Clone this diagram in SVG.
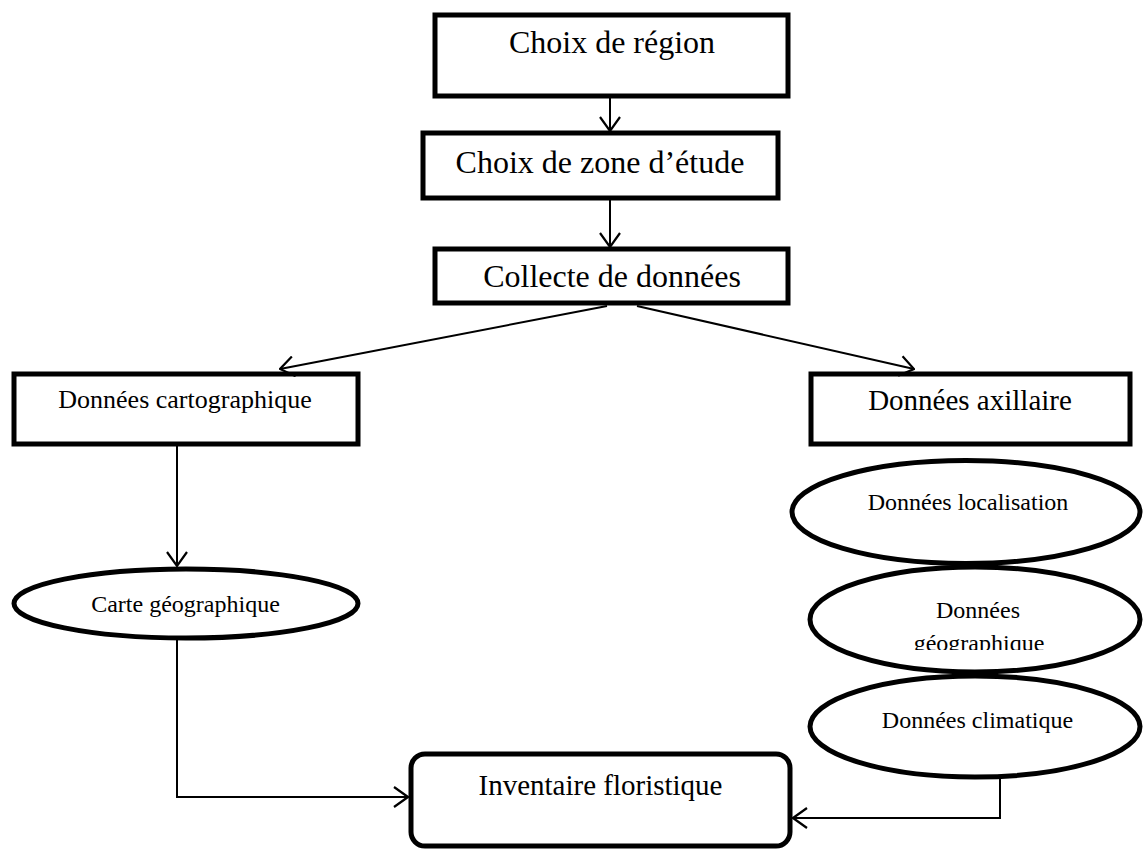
<svg xmlns="http://www.w3.org/2000/svg" width="1143" height="851" viewBox="0 0 1143 851">
<style>
.box{fill:#fff;stroke:#000;stroke-width:5}
.el{fill:#fff;stroke:#000;stroke-width:5}
.c{fill:none;stroke:#000;stroke-width:2}
text{font-family:"Liberation Serif","Times New Roman",serif;fill:#000;text-anchor:middle}
</style>
<defs>
<marker id="ah" viewBox="0 0 16 22" refX="15" refY="11" markerWidth="16" markerHeight="22" markerUnits="userSpaceOnUse" orient="auto">
<path d="M1,1 L15,11 L1,21" fill="none" stroke="#000" stroke-width="2.2"/>
</marker>
<clipPath id="geoclip"><rect x="800" y="560" width="343" height="90"/></clipPath>
</defs>
<rect width="1143" height="851" fill="#fff"/>
<g id="n-region"><rect class="box" x="435" y="15" width="353" height="81"/><text x="612" y="53" font-size="32">Choix de région</text></g>
<g id="n-zone"><rect class="box" x="423" y="133" width="355" height="65"/><text x="600" y="173" font-size="32">Choix de zone d’étude</text></g>
<g id="n-collecte"><rect class="box" x="435" y="249" width="353" height="54"/><text x="612" y="287" font-size="32">Collecte de données</text></g>
<g id="n-carto"><rect class="box" x="14" y="374" width="344" height="70"/><text x="185" y="408" font-size="26">Données cartographique</text></g>
<g id="n-axillaire"><rect class="box" x="811" y="374" width="319" height="70"/><text x="970" y="410" font-size="29">Données axillaire</text></g>
<g id="n-carte"><ellipse class="el" cx="186" cy="603.5" rx="172" ry="34.5"/><text x="185.5" y="612" font-size="24">Carte géographique</text></g>
<g id="n-loc"><ellipse class="el" cx="966" cy="512" rx="174" ry="51.5"/><text x="968" y="510" font-size="24">Données localisation</text></g>
<g id="n-geo"><ellipse class="el" cx="975" cy="619.5" rx="165" ry="52.5"/><text x="978" y="618" font-size="24">Données</text><text x="979" y="651" font-size="24" clip-path="url(#geoclip)">géographique</text></g>
<g id="n-clim"><ellipse class="el" cx="975" cy="726.5" rx="165" ry="50.5"/><text x="977.5" y="728" font-size="24">Données climatique</text></g>
<g id="n-inventaire"><rect class="box" x="411" y="754" width="379" height="92" rx="14"/><text x="600.5" y="795" font-size="29">Inventaire floristique</text></g>
<g id="connectors">
<line class="c" x1="610" y1="98" x2="610" y2="131" marker-end="url(#ah)"/>
<line class="c" x1="610" y1="200" x2="610" y2="247" marker-end="url(#ah)"/>
<line class="c" x1="607" y1="306" x2="280" y2="369" marker-end="url(#ah)"/>
<line class="c" x1="637" y1="306" x2="914" y2="369" marker-end="url(#ah)"/>
<line class="c" x1="177" y1="446" x2="177" y2="566" marker-end="url(#ah)"/>
<path class="c" d="M177,640 V797 H408" marker-end="url(#ah)"/>
<path class="c" d="M1000,777 V818 H793" marker-end="url(#ah)"/>
</g>
</svg>
